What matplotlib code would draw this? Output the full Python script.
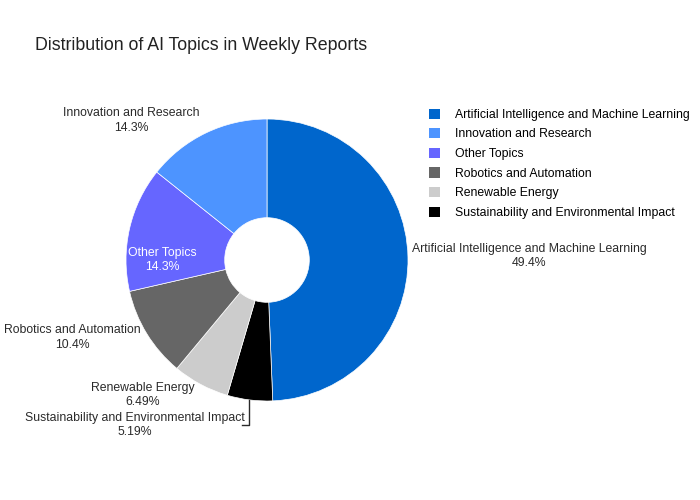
import matplotlib
matplotlib.use("Agg")
import matplotlib.pyplot as plt
from matplotlib.patches import Patch

plt.rcParams["font.family"] = "Liberation Sans"

categories = ["Artificial Intelligence and Machine Learning", "Sustainability and Environmental Impact",
              "Renewable Energy", "Robotics and Automation", "Other Topics", "Innovation and Research"]
values = [38, 4, 5, 8, 11, 11]
colors = ["#0066CC", "#000000", "#CCCCCC", "#666666", "#6666FF", "#4D94FF"]
legend_order = ["Artificial Intelligence and Machine Learning", "Innovation and Research", "Other Topics",
                "Robotics and Automation", "Renewable Energy", "Sustainability and Environmental Impact"]

fig = plt.figure(figsize=(7, 5), dpi=100)
ax = fig.add_axes([(267-141)/700, 1-(260+141)/500, 282/700, 282/500])
wedges, _ = ax.pie(values, colors=colors, startangle=90, counterclock=False,
                   wedgeprops=dict(width=0.7, edgecolor="white", linewidth=0.5))
ax.set_xlim(-1, 1); ax.set_ylim(-1, 1); ax.set_aspect("equal")

total = sum(values)
pct = {c: f"{v/total*100:.3g}%" for c, v in zip(categories, values)}
label_pos = {
    "Artificial Intelligence and Machine Learning": (1.86, 0.03, "#2a2a2a"),
    "Innovation and Research": (-0.96, 0.99, "#2a2a2a"),
    "Other Topics": (-0.74, 0.0, "white"),
    "Robotics and Automation": (-1.38, -0.55, "#2a2a2a"),
    "Renewable Energy": (-0.88, -0.96, "#2a2a2a"),
    "Sustainability and Environmental Impact": (-0.94, -1.17, "#2a2a2a"),
}
for c in categories:
    x, y, col = label_pos[c]
    ax.text(x, y, f"{c}\n{pct[c]}", ha="center", va="center", fontsize=8.8,
            color=col, clip_on=False, linespacing=1.25)
ax.plot([-0.13, -0.13, -0.18], [-0.99, -1.17, -1.17], color="#2a2a2a", lw=1, clip_on=False)

fig.text(35/700, 1-45/500, "Distribution of AI Topics in Weekly Reports", fontsize=12.8,
         va="center", color="#222222")
cmap = dict(zip(categories, colors))
handles = [Patch(facecolor=cmap[c], edgecolor="none") for c in legend_order]
fig.legend(handles, legend_order, loc="upper left", bbox_to_anchor=(420/700, 1-100/500),
           frameon=False, fontsize=8.8, handlelength=0.9, handleheight=0.9,
           labelspacing=0.6, handletextpad=1.3, borderaxespad=0.3)
fig.savefig("out.png", dpi=100)
